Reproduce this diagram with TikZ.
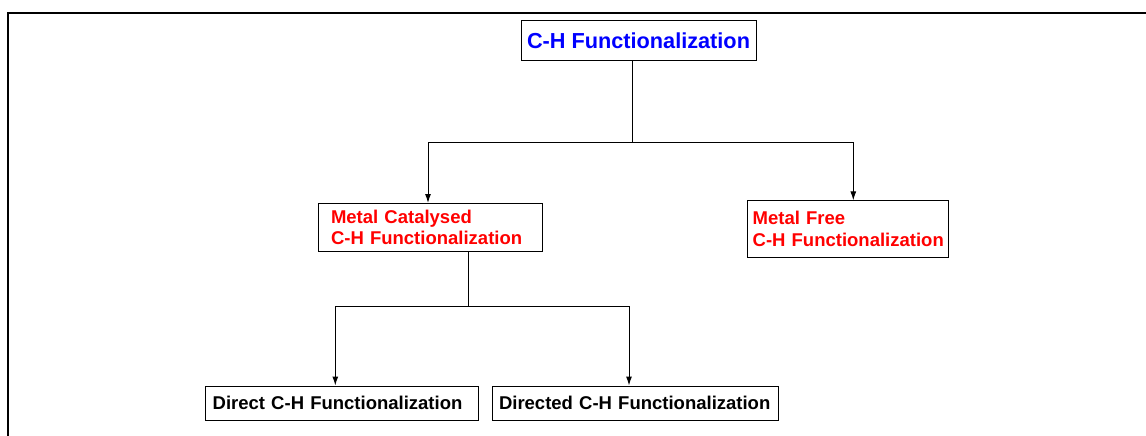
\documentclass[tikz,border=0pt]{standalone}
\usepackage{fontspec}
\setmainfont{Liberation Sans}
\usepackage{xcolor}
\usetikzlibrary{arrows.meta, positioning}
\definecolor{headblue}{RGB}{0, 0, 255}
\definecolor{branchred}{RGB}{255, 0, 0}

\begin{document}
\begin{tikzpicture}[
  x=1pt, y=-1pt,
  box/.style={draw, line width=1pt, inner ysep=0pt, align=left,
               font={\fontsize{18.5}{21.7}\selectfont\bfseries}},
  headbox/.style={box, text=headblue, align=center,
               font={\fontsize{21.7}{25}\selectfont\bfseries}},
  redbox/.style={box, text=branchred},
  leafbox/.style={box, minimum height=34pt, inner xsep=7pt},
  link/.style={line width=1pt},
  arr/.style={link, -{Latex[length=9pt, width=6pt]}},
]
\useasboundingbox (0,0) rectangle (1146,436);

% Frame
\draw[line width=2pt] (1146,13) -- (7.7,13) -- (7.7,436);

% Top level
\node[headbox, minimum width=235pt, minimum height=40pt] (top) at (638.5,41) {C-H Functionalization};

% Second level
\node[redbox, minimum height=48pt, inner xsep=13pt, text width=198pt] (metcat) at (430,227.5)
  {Metal Catalysed\\C-H Functionalization};
\node[redbox, minimum height=56.3pt, inner xsep=5pt, text width=191.3pt] (metfree) at (848.3,229)
  {Metal Free\\C-H Functionalization};

% Third level
\node[leafbox, text width=259.3pt] (direct)   at (342.3,403) {Direct C-H Functionalization};
\node[leafbox, text width=272pt]   (directed) at (635,403)   {Directed C-H Functionalization};

% Junctions
\coordinate (j1) at (632.7,142);
\coordinate (j2) at (468.7,306.5);

% Arrows — top split
\draw[link] (top.south -| j1) -- (j1);
\draw[arr] (j1) -| ([xshift=-2pt]metcat.north);
\draw[arr] (j1) -| ([xshift=5pt]metfree.north);

% Arrows — metal catalysed split
\draw[link] (metcat.south -| j2) -- (j2);
\draw[arr] (j2) -| ([xshift=-7pt]direct.north);
\draw[arr] (j2) -| ([xshift=-6pt]directed.north);

\end{tikzpicture}
\end{document}
